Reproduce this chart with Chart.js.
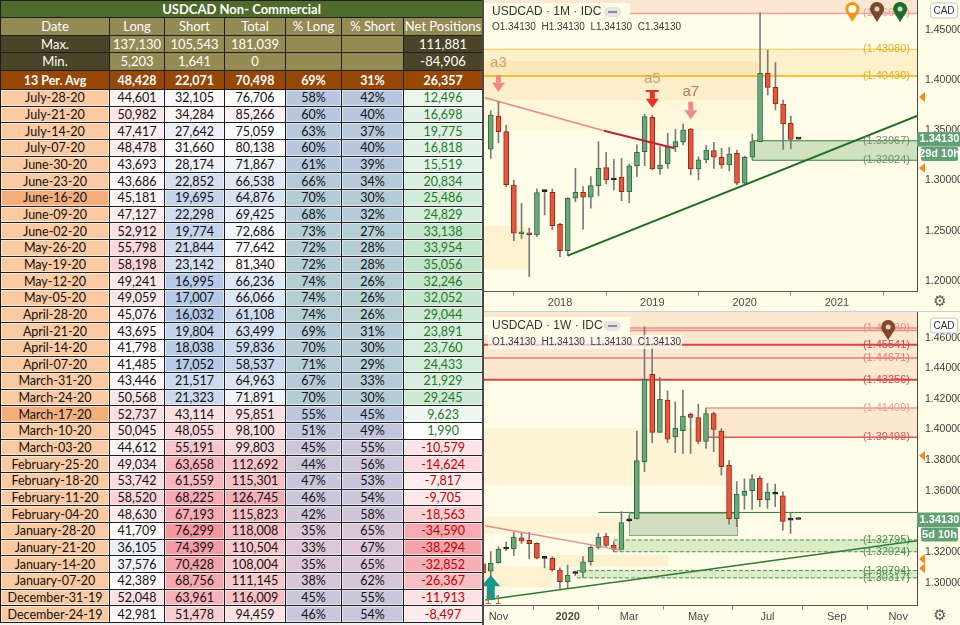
<!DOCTYPE html>
<html>
<head>
<meta charset="utf-8">
<script src="https://cdn.jsdelivr.net/npm/chart.js@4.4.0/dist/chart.umd.min.js"></script>
<style>
html, body { margin: 0; padding: 0; width: 960px; height: 625px; overflow: hidden; background: #fff; }
#cot { position: absolute; left: 0; top: 0; width: 482px; height: 625px; overflow: hidden; background: #f2f2f2; }
#cot table { border-collapse: collapse; table-layout: fixed; width: 482px; font-family: Lato, "Open Sans", sans-serif; font-size: 12.5px; }
#cot td { border: 1px solid #1e1e1e; padding: 0; text-align: center; white-space: nowrap; overflow: hidden; line-height: 13px; color: #111; }
#cot tr.title td { background: #4f6a2a; color: #fff; font-weight: bold; font-size: 13px; height: 16px; }
#cot tr.head td { background: #948a54; color: #fff; height: 17px; font-size: 13px; }
#cot tr.mm td { background: #948a54; color: #fff; height: 16px; font-size: 13px; }
#cot tr.mm.mn td { height: 17px; }
#cot tr.mm td.dk { background: #4a4529; }
#cot tr.avg td { background: #974706; color: #fff; font-weight: bold; height: 18px; }
#cot tr.row td { height: 15.67px; box-shadow: inset 0 0 0 1px rgba(255,255,255,0.55); }
#cot tr.row td.dt { background: #fbcaa2; }
#cot tr.row td.dt.hl { background: #f4ae7c; }
#vsep { position: absolute; left: 482px; top: 0; width: 2px; height: 625px; background: #4a4a4a; }
#hsep { position: absolute; left: 484px; top: 311px; width: 476px; height: 1px; background: #c6ceda; }
#topBox { position: absolute; left: 484px; top: 0; width: 476px; height: 311px; }
#botBox { position: absolute; left: 484px; top: 312px; width: 476px; height: 313px; }
</style>
</head>
<body>
<div id="cot"><table id="cotTable"></table></div>
<div id="vsep"></div>
<div id="topBox"><canvas id="monthChart"></canvas></div>
<div id="hsep"></div>
<div id="botBox"><canvas id="weekChart"></canvas></div>
<script>
// ---------- COT table ----------
const cotDates = ['July-28-20','July-21-20','July-14-20','July-07-20','June-30-20','June-23-20','June-16-20','June-09-20',
    'June-02-20','May-26-20','May-19-20','May-12-20','May-05-20','April-28-20','April-21-20','April-14-20','April-07-20',
    'March-31-20','March-24-20','March-17-20','March-10-20','March-03-20','February-25-20','February-18-20','February-11-20',
    'February-04-20','January-28-20','January-21-20','January-14-20','January-07-20','December-31-19','December-24-19'];
const cotLong = [44601,50982,47417,48478,43693,43686,45181,47127,52912,55798,58198,49241,49059,45076,43695,41798,41485,
    43446,50568,52737,50045,44612,49034,53742,58520,48630,41709,36105,37576,42389,52048,42981];
const cotShort = [32105,34284,27642,31660,28174,22852,19695,22298,19774,21844,23142,16995,17007,16032,19804,18038,17052,
    21517,21323,43114,48055,55191,63658,61559,68225,67193,76299,74399,70428,68756,63961,51478];
const cotTotal = [76706,85266,75059,80138,71867,66538,64876,69425,72686,77642,81340,66236,66066,61108,63499,59836,58537,
    64963,71891,95851,98100,99803,112692,115301,126745,115823,118008,110504,108004,111145,116009,94459];
const cotPctLong = [58,60,63,60,61,66,70,68,73,72,72,74,74,74,69,70,71,67,70,55,51,45,44,47,46,42,35,33,35,38,45,46];
const cotPctShort = [42,40,37,40,39,34,30,32,27,28,28,26,26,26,31,30,29,33,30,45,49,55,56,53,54,58,65,67,65,62,55,54];
const cotNet = [12496,16698,19775,16818,15519,20834,25486,24829,33138,33954,35056,32246,32052,29044,23891,23760,24433,
    21929,29245,9623,1990,-10579,-14624,-7817,-9705,-18563,-34590,-38294,-32852,-26367,-11913,-8497];
const cotMax = [137130, 105543, 181039, 111881];
const cotMin = [5203, 1641, 0, -84906];
const cotAvg = [48428, 22071, 70498, 69, 31, 26357];

const highlightDates = ['June-16-20', 'March-17-20'];

function hexRgb(h) { return [1, 3, 5].map(i => parseInt(h.substr(i, 2), 16)); }
function colorScale(v, lo, mid, hi, cLo, cMid, cHi) {
    let a, b, t;
    if (v <= mid) { a = hexRgb(cLo); b = hexRgb(cMid); t = (v - lo) / (mid - lo); }
    else { a = hexRgb(cMid); b = hexRgb(cHi); t = (v - mid) / (hi - mid); }
    t = Math.max(0, Math.min(1, t));
    return 'rgb(' + a.map((x, i) => Math.round(x + (b[i] - x) * t)).join(',') + ')';
}
const fmt = n => n.toLocaleString('en-US');

function buildTable() {
    let html = '<colgroup><col style="width:109px"><col style="width:55px"><col style="width:60px"><col style="width:61px">' +
        '<col style="width:56px"><col style="width:62px"><col style="width:79px"></colgroup>';
    html += '<tr class="title"><td colspan="7">USDCAD Non- Commercial</td></tr>';
    html += '<tr class="head"><td>Date</td><td>Long</td><td>Short</td><td>Total</td><td>% Long</td><td>% Short</td><td>Net Positions</td></tr>';
    html += `<tr class="mm"><td class="dk">Max.</td><td>${fmt(cotMax[0])}</td><td>${fmt(cotMax[1])}</td><td>${fmt(cotMax[2])}</td><td></td><td></td><td class="dk">${fmt(cotMax[3])}</td></tr>`;
    html += `<tr class="mm mn"><td class="dk">Min.</td><td>${fmt(cotMin[0])}</td><td>${fmt(cotMin[1])}</td><td>${fmt(cotMin[2])}</td><td></td><td></td><td class="dk">${fmt(cotMin[3])}</td></tr>`;
    html += `<tr class="avg"><td>13 Per. Avg</td><td>${fmt(cotAvg[0])}</td><td>${fmt(cotAvg[1])}</td><td>${fmt(cotAvg[2])}</td><td>${cotAvg[3]}%</td><td>${cotAvg[4]}%</td><td>${fmt(cotAvg[5])}</td></tr>`;
    cotDates.forEach((d, i) => {
        const hl = highlightDates.includes(d) ? ' hl' : '';
        const cL = colorScale(cotLong[i], 36000, 41000, 58200, '#eaf0f9', '#fefcfd', '#fad2d7');
        const cS = colorScale(cotShort[i], 16000, 31000, 76300, '#b1c5e6', '#fdfbfc', '#f4979f');
        const cT = colorScale(cotTotal[i], 58500, 77000, 126750, '#c6d5ed', '#ffffff', '#f5adb4');
        const cP = colorScale(cotPctLong[i], 33, 58, 74, '#ddc6d6', '#b8c6e0', '#b4ced4');
        const cN = colorScale(cotNet[i], -38300, 0, 35100, '#f4a2aa', '#ffffff', '#c3e4ca');
        const tN = cotNet[i] < 0 ? '#c00000' : '#1f7a28';
        html += `<tr class="row"><td class="dt${hl}">${d}</td>` +
            `<td style="background:${cL}">${fmt(cotLong[i])}</td>` +
            `<td style="background:${cS}">${fmt(cotShort[i])}</td>` +
            `<td style="background:${cT}">${fmt(cotTotal[i])}</td>` +
            `<td style="background:${cP}">${cotPctLong[i]}%</td>` +
            `<td style="background:${cP}">${cotPctShort[i]}%</td>` +
            `<td style="background:${cN};color:${tN}">${fmt(cotNet[i])}</td></tr>`;
    });
    document.getElementById('cotTable').innerHTML = html;
}
buildTable();

// ---------- monthly candles, Apr 2017 .. Aug 2020 (x = month index, 0 = Apr 2017) ----------
const mOpen  = [1.3312,1.3643,1.3487,1.2956,1.2470,1.2480,1.2458,1.2890,1.2883,1.2565,1.2302,1.2824,1.2883,1.2834,
    1.2949,1.3129,1.3006,1.3033,1.2890,1.3148,1.3288,1.3630,1.3116,1.3165,1.3338,1.3388,1.3514,1.3116,1.3206,1.3299,
    1.3232,1.3155,1.3272,1.2973,1.3232,1.3388,1.4068,1.3929,1.3763,1.3570,1.3413];
const mHigh  = [1.3696,1.3793,1.3554,1.3006,1.2774,1.2528,1.2917,1.2906,1.2917,1.2574,1.2830,1.3122,1.2939,1.3039,
    1.3388,1.3282,1.3215,1.3222,1.3165,1.3355,1.3660,1.3653,1.3338,1.3471,1.3511,1.3564,1.3521,1.3237,1.3348,1.3381,
    1.3321,1.3331,1.3305,1.3245,1.3464,1.4673,1.4301,1.4175,1.3803,1.3643,1.3413];
const mLow   = [1.3222,1.3378,1.2939,1.2402,1.2425,1.2043,1.2441,1.2657,1.2510,1.2243,1.2252,1.2790,1.2515,1.2724,
    1.2847,1.2966,1.2906,1.2800,1.2779,1.3039,1.3149,1.3106,1.3062,1.3122,1.3288,1.3355,1.3056,1.3006,1.3179,1.3122,
    1.3122,1.3099,1.2956,1.2956,1.3205,1.3388,1.3853,1.3703,1.3311,1.3315,1.3413];
const mClose = [1.3653,1.3487,1.2959,1.2475,1.2480,1.2460,1.2880,1.2895,1.2551,1.2302,1.2824,1.2883,1.2834,1.2949,
    1.3122,1.3006,1.3010,1.2890,1.3148,1.3282,1.3637,1.3116,1.3155,1.3338,1.3388,1.3504,1.3116,1.3206,1.3305,1.3232,
    1.3155,1.3265,1.2973,1.3232,1.3388,1.4068,1.3929,1.3763,1.3564,1.3411,1.3413];
const mTickPos = [9, 21, 33, 45];
const mTickLabels = ['2018', '2019', '2020', '2021'];
const mPriceTicks = [1.20, 1.25, 1.30, 1.35, 1.40, 1.45];
const mLinePrices = [1.46650, 1.43080, 1.40430, 1.33967, 1.32024];
const mLineFrom = [-1, -1, -1, 34, 34];
const mZoneTop = [1.4800, 1.43080, 1.4191, 1.3803, 1.33967, 1.2551];
const mZoneBottom = [1.46650, 1.40430, 1.3803, 1.3504, 1.32024, 1.2116];
const mZoneFrom = [-1, -1, -1, -1, 34, -1];
const mZoneTo = [56, 56, 34.7, 34.7, 56, 5.1];
const mRedTrendX = [-0.74, 14.7, 23.9];
const mRedTrendY = [1.3826, 1.3497, 1.3322];
const mGreenTrendX = [10.0, 55.4];
const mGreenTrendY = [1.2252, 1.3643];
const mNoteText = ['a3', 'a5', 'a7'];
const mNoteX = [1, 21, 26];
const mNoteY = [1.4168, 1.4009, 1.3886];
const mArrowTop = [1.4052, 1.3902, 1.3786];
const mArrowTip = [1.3886, 1.3726, 1.3611];
const mPinX = [47.0, 50.2, 53.2];
const mPinY = [1.4580, 1.4580, 1.4580];
const mAlerts = [1.3833, 1.3125];
const lastPrice = 1.34130;

// ---------- weekly candles, Oct 21 2019 .. Aug 3 2020 (x = week index, 0 = Oct 28 2019) ----------
const wOpen  = [1.3124,1.3076,1.3131,1.3220,1.3222,1.3294,1.3277,1.3257,1.3163,1.3159,1.3083,1.3007,1.3060,1.3068,
    1.3137,1.3231,1.3305,1.3244,1.3218,1.3405,1.3416,1.3790,1.4361,1.3982,1.4193,1.3953,1.3993,1.4099,1.4078,1.3923,
    1.4104,1.3990,1.3766,1.3418,1.3570,1.3601,1.3681,1.3540,1.3580,1.3568,1.3409,1.3413];
const wHigh  = [1.3135,1.3203,1.3235,1.3265,1.3331,1.3324,1.3329,1.3261,1.3172,1.3170,1.3098,1.3115,1.3076,1.3170,
    1.3242,1.3322,1.3322,1.3268,1.3464,1.3442,1.3991,1.4672,1.4541,1.4341,1.4254,1.4182,1.4258,1.4110,1.4167,1.4139,
    1.4115,1.4008,1.3797,1.3660,1.3679,1.3708,1.3697,1.3649,1.3644,1.3594,1.3457,1.3413];
const wLow   = [1.3045,1.3039,1.3127,1.3209,1.3179,1.3257,1.3155,1.3155,1.3096,1.3076,1.2963,1.2961,1.3046,1.3035,
    1.3115,1.3220,1.3235,1.3203,1.3214,1.3398,1.3416,1.3725,1.3914,1.3982,1.3914,1.3849,1.3845,1.3845,1.3906,1.3878,
    1.3856,1.3703,1.3383,1.3366,1.3481,1.3479,1.3496,1.3485,1.3496,1.3344,1.3322,1.3413];
const wClose = [1.3065,1.3126,1.3220,1.3225,1.3298,1.3272,1.3255,1.3161,1.3159,1.3083,1.3007,1.3050,1.3065,1.3137,
    1.3231,1.3296,1.3244,1.3218,1.3392,1.3410,1.3797,1.4328,1.3982,1.4197,1.3938,1.4008,1.4088,1.4080,1.3923,1.4104,
    1.4001,1.3758,1.3418,1.3579,1.3597,1.3679,1.3542,1.3592,1.3578,1.3401,1.3413,1.3413];
const wTickPos = [1, 10, 18, 27, 36, 45, 53];
const wTickLabels = ['Nov', '2020', 'Mar', 'May', 'Jul', 'Sep', 'Nov'];
const wPriceTicks = [1.30, 1.32, 1.34, 1.36, 1.38, 1.40, 1.42, 1.44, 1.46];
const wLinePrices = [1.46639, 1.46480, 1.45541, 1.44671, 1.43256, 1.41409, 1.39498, 1.34590, 1.32795, 1.32024, 1.30794, 1.30317];
const wLineFrom = [-1, -1, -1, -1, -1, 27.9, 28.3, 14, 16, 16, 11.2, 11.2];
const wLineLabeled = [1, 0, 1, 1, 1, 1, 1, 0, 1, 1, 1, 1];
const wZoneTop = [1.4770, 1.41409, 1.4008, 1.3431, 1.3181, 1.3105, 1.3453, 1.32795, 1.30794];
const wZoneBottom = [1.43256, 1.39498, 1.3638, 1.3322, 1.3105, 1.2970, 1.3307, 1.32024, 1.30317];
const wZoneFrom = [-1, 27.9, -1, -1, 8, -1, 18, 16, 11.2];
const wZoneTo = [56, 56, 30.5, 16.8, 23.1, 8, 32.1, 56, 56];
const wRedTrendX = [-0.73, 16.9];
const wRedTrendY = [1.3372, 1.3213];
const wGreenTrendX = [-0.73, 55.5];
const wGreenTrendY = [1.2887, 1.3274];
const wArrowX = [0];
const wArrowBase = [1.2887];
const wArrowTip = [1.3049];
const wPinX = [51.7];
const wPinY = [1.4585];
const wAlerts = [1.3829, 1.3155, 1.3094];

// ---------- styles ----------
const BG = '#fffde8';
const FONT = '"Liberation Sans", Arial, sans-serif';
const GREEN = '#6aa87b', GREEN_EDGE = '#2e6b42', RED = '#e6563f', RED_EDGE = '#982816', WICK = '#7b7b7b';
const mLineStyle = [
    { c: '#eea29a', w: 1.5, l: '#e8a098' }, { c: '#f5c64a', w: 1, l: '#e3ac22' }, { c: '#f2b300', w: 1.5, l: '#e3ac22' },
    { c: '#3f7d45', w: 1, l: '#6f8f6f' }, { c: '#3f7d45', w: 1, l: '#6f8f6f' }];
const mZoneFill = ['rgba(246,190,170,0.35)', 'rgba(250,214,140,0.30)', 'rgba(250,210,140,0.32)',
    'rgba(250,220,160,0.18)', 'rgba(120,175,115,0.35)', 'rgba(250,215,150,0.28)'];
const wLineStyle = [
    { c: '#e88c86', w: 1.5 }, { c: '#e88c86', w: 1.5 }, { c: '#d9464a', w: 2 }, { c: '#e57a78', w: 1.5 }, { c: '#d9464a', w: 2 },
    { c: '#eb9a94', w: 1.5 }, { c: '#de5a58', w: 1.5 }, { c: '#3a7a34', w: 1 },
    { c: '#4f8f4f', w: 1, d: [4, 2] }, { c: '#4f8f4f', w: 1, d: [4, 2] }, { c: '#4f8f4f', w: 1, d: [4, 2] }, { c: '#4f8f4f', w: 1, d: [4, 2] }];
const wZoneFill = ['rgba(246,190,170,0.36)', 'rgba(246,190,170,0.36)', 'rgba(250,215,150,0.22)', 'rgba(250,215,150,0.25)',
    'rgba(250,215,150,0.30)', 'rgba(250,215,150,0.30)', 'rgba(140,175,130,0.40)', 'rgba(150,205,140,0.35)', 'rgba(150,205,140,0.35)'];
const wZoneEdge = [null, null, null, null, null, null, '#8ea88a', null, null];

function candleSets(start, o, h, l, c) {
    const wick = [], body = [], fill = [], edge = [];
    for (let i = 0; i < o.length; i++) {
        wick.push({ x: start + i, y: [l[i], h[i]] });
        body.push({ x: start + i, y: [o[i], c[i]] });
        const flat = Math.abs(c[i] - o[i]) < 0.0008;
        fill.push(flat ? '#1a1a1a' : (c[i] >= o[i] ? GREEN : RED));
        edge.push(flat ? '#1a1a1a' : (c[i] >= o[i] ? GREEN_EDGE : RED_EDGE));
    }
    return [
        { type: 'bar', data: wick, backgroundColor: WICK, barThickness: 1, grouped: false, order: 3 },
        { type: 'bar', data: body, backgroundColor: fill, borderColor: edge, borderWidth: 1, borderSkipped: false,
          barThickness: 5, minBarLength: 2, grouped: false, order: 2 }
    ];
}

function trend(xs, ys, from, to, color, width) {
    const pts = [];
    for (let i = from; i <= to; i++) pts.push({ x: xs[i], y: ys[i] });
    return { type: 'line', data: pts, borderColor: color, borderWidth: width, pointRadius: 0, fill: false, order: 1 };
}

function downArrow(ctx, x, yTop, yTip, color) {
    const head = Math.min(9, (yTip - yTop) * 0.55);
    ctx.fillStyle = color;
    ctx.fillRect(x - 2.5, yTop, 5, yTip - yTop - head);
    ctx.beginPath();
    ctx.moveTo(x - 6.5, yTip - head); ctx.lineTo(x + 6.5, yTip - head); ctx.lineTo(x, yTip);
    ctx.closePath(); ctx.fill();
}

function pin(ctx, x, yTip, color, hollow) {
    const r = 7, cy = yTip - 13;
    ctx.fillStyle = color;
    ctx.beginPath();
    ctx.arc(x, cy, r, Math.PI * 0.8, Math.PI * 2.2);
    ctx.lineTo(x, yTip);
    ctx.closePath(); ctx.fill();
    ctx.fillStyle = hollow ? BG : 'rgba(255,255,255,0.75)';
    ctx.beginPath(); ctx.arc(x, cy, hollow ? 4 : 2.5, 0, Math.PI * 2); ctx.fill();
}

function roundBox(ctx, x, y, w, h, r, fill, stroke) {
    ctx.beginPath();
    ctx.roundRect(x, y, w, h, r);
    ctx.fillStyle = fill; ctx.fill();
    if (stroke) { ctx.strokeStyle = stroke; ctx.lineWidth = 1; ctx.stroke(); }
}

function panelPlugin(p) {
    return {
        id: 'panel_' + p.name,
        beforeDraw(chart) {
            const ctx = chart.ctx;
            ctx.save(); ctx.fillStyle = BG; ctx.fillRect(0, 0, chart.width, chart.height); ctx.restore();
        },
        beforeDatasetsDraw(chart) {
            const { ctx, chartArea: a, scales: { x, y } } = chart;
            ctx.save();
            ctx.beginPath(); ctx.rect(a.left, a.top, a.right - a.left, a.bottom - a.top); ctx.clip();
            p.zoneTop.forEach((t, i) => {
                const x0 = x.getPixelForValue(p.zoneFrom[i]), x1 = x.getPixelForValue(p.zoneTo[i]);
                const y0 = y.getPixelForValue(t), y1 = y.getPixelForValue(p.zoneBottom[i]);
                ctx.fillStyle = p.zoneFill[i];
                ctx.fillRect(x0, y0, x1 - x0, y1 - y0);
                if (p.zoneEdge && p.zoneEdge[i]) {
                    ctx.strokeStyle = p.zoneEdge[i]; ctx.lineWidth = 1;
                    ctx.strokeRect(Math.round(x0) + 0.5, Math.round(y0) + 0.5, Math.round(x1 - x0), Math.round(y1 - y0));
                }
            });
            p.linePrices.forEach((v, i) => {
                const s = p.lineStyle[i];
                const yy = y.getPixelForValue(v);
                ctx.strokeStyle = s.c; ctx.lineWidth = s.w; ctx.setLineDash(s.d || []);
                ctx.beginPath(); ctx.moveTo(x.getPixelForValue(p.lineFrom[i]), yy); ctx.lineTo(a.right, yy); ctx.stroke();
            });
            ctx.setLineDash([]);
            ctx.restore();
        },
        afterDatasetsDraw(chart) {
            const { ctx, chartArea: a, scales: { x, y } } = chart;
            ctx.save();
            ctx.beginPath(); ctx.rect(a.left, a.top, a.right - a.left, a.bottom - a.top); ctx.clip();
            // level labels
            ctx.font = '11px ' + FONT; ctx.textAlign = 'right'; ctx.textBaseline = 'middle';
            p.linePrices.forEach((v, i) => {
                if (p.lineLabeled && !p.lineLabeled[i]) return;
                ctx.fillStyle = p.lineStyle[i].l || p.lineStyle[i].c;
                ctx.fillText('(' + v.toFixed(5) + ')', a.right - 7, y.getPixelForValue(v));
            });
            p.extra(ctx, a, x, y);
            ctx.restore();
            // header text
            ctx.save();
            ctx.textBaseline = 'middle';
            ctx.fillStyle = BG;
            ctx.fillRect(0, p.titleY - 9, 146, 18);
            ctx.textAlign = 'left';
            ctx.font = '12px ' + FONT; ctx.fillStyle = '#333';
            ctx.fillText(p.title, 8, p.titleY);
            roundBox(ctx, 120, p.titleY - 5, 17, 10, 5, '#e4e4e4');
            ctx.fillStyle = '#8c8c8c'; ctx.fillRect(124, p.titleY - 1, 9, 2);
            if (p.ohlcBox) { ctx.fillStyle = 'rgba(255,255,250,0.7)'; ctx.fillRect(4, p.ohlcY - 7, 194, 14); }
            ctx.font = '10px ' + FONT; ctx.fillStyle = '#3a3a3a';
            ctx.fillText('O1.34130  H1.34130  L1.34130  C1.34130', 8, p.ohlcY);
            ctx.restore();
        },
        afterDraw(chart) {
            const { ctx, chartArea: a, scales: { y } } = chart;
            ctx.save();
            // alert marks on the price axis
            ctx.fillStyle = '#f58a1f';
            p.alerts.forEach(v => {
                const yy = y.getPixelForValue(v);
                ctx.beginPath(); ctx.moveTo(a.right + 2, yy); ctx.lineTo(a.right + 8, yy - 5); ctx.lineTo(a.right + 8, yy + 5);
                ctx.closePath(); ctx.fill();
            });
            // last price boxes
            const yl = y.getPixelForValue(lastPrice);
            ctx.fillStyle = '#62a176';
            ctx.fillRect(a.right, yl - 7, chart.width - a.right, 14.5);
            roundBox(ctx, a.right + 4, yl + 8, chart.width - a.right - 6, 14, 2, '#62a176');
            ctx.fillStyle = '#fff'; ctx.font = 'bold 11px ' + FONT; ctx.textAlign = 'center'; ctx.textBaseline = 'middle';
            ctx.fillText(lastPrice.toFixed(5), (a.right + chart.width) / 2 + 1, yl);
            ctx.fillText(p.countdown, (a.right + chart.width) / 2 + 1, yl + 15);
            // currency box
            roundBox(ctx, a.right + 13.5, p.cadY, 27, 15, 3, '#fff', '#c4c4c4');
            ctx.fillStyle = '#333'; ctx.font = '10px ' + FONT;
            ctx.fillText('CAD', a.right + 27, p.cadY + 8);
            // settings gear
            ctx.fillStyle = '#555'; ctx.font = '15px "DejaVu Sans"';
            ctx.fillText('\u2699', a.right + 23, a.bottom + 10);
            ctx.restore();
        }
    };
}

function makeChart(id, p) {
    return new Chart(document.getElementById(id), {
        type: 'bar',
        data: { datasets: p.datasets },
        options: {
            responsive: true,
            maintainAspectRatio: false,
            animation: false,
            events: [],
            layout: { padding: 0 },
            plugins: { legend: { display: false }, tooltip: { enabled: false } },
            scales: {
                x: {
                    type: 'linear', min: p.xMin, max: p.xMax, offset: false,
                    afterFit: s => { s.height = p.xAxisH; s.paddingLeft = 0; s.paddingRight = 0; },
                    afterBuildTicks: s => { s.ticks = p.tickPos.map(v => ({ value: v })); },
                    ticks: {
                        autoSkip: false, maxRotation: 0, padding: 1, color: '#4a4a4a',
                        callback: (v, i) => p.tickLabels[i],
                        font: c => ({ family: FONT, size: 11, weight: (c.tick && c.tick.value === p.boldTick) ? 'bold' : 'normal' })
                    },
                    grid: { display: true, drawOnChartArea: false, drawTicks: true, tickLength: 4, color: '#8a8a8a' },
                    border: { display: true, color: '#5a5a5a', width: 1 }
                },
                y: {
                    type: 'linear', position: 'right', min: p.yMin, max: p.yMax,
                    afterFit: s => { s.width = 43; s.paddingTop = 0; s.paddingBottom = 0; },
                    afterBuildTicks: s => { s.ticks = p.priceTicks.map(v => ({ value: v })); },
                    ticks: { padding: 8, color: '#3c3c3c', font: { family: FONT, size: 10.5 }, callback: v => Number(v).toFixed(5) },
                    grid: { display: false, drawTicks: false },
                    border: { display: true, color: '#4a4a4a', width: 1 }
                }
            }
        },
        plugins: [panelPlugin(p)]
    });
}

makeChart('monthChart', {
    name: 'month',
    datasets: [
        ...candleSets(0, mOpen, mHigh, mLow, mClose),
        trend(mRedTrendX, mRedTrendY, 0, 1, 'rgba(226,120,110,0.85)', 1.5),
        trend(mRedTrendX, mRedTrendY, 1, 2, '#b8262a', 2),
        trend(mGreenTrendX, mGreenTrendY, 0, 1, '#1f6d22', 2)
    ],
    xMin: -0.88, xMax: 55.4, yMin: 1.1893, yMax: 1.4799, xAxisH: 19.3,
    tickPos: mTickPos, tickLabels: mTickLabels, boldTick: null, priceTicks: mPriceTicks,
    linePrices: mLinePrices, lineFrom: mLineFrom, lineStyle: mLineStyle,
    zoneTop: mZoneTop, zoneBottom: mZoneBottom, zoneFrom: mZoneFrom, zoneTo: mZoneTo, zoneFill: mZoneFill,
    alerts: mAlerts, countdown: '29d 10h', cadY: 3,
    title: 'USDCAD \u00b7 1M \u00b7 IDC', titleY: 12, ohlcY: 27, ohlcBox: false,
    extra(ctx, a, x, y) {
        const noteColor = ['#c99a6c', '#c99a6c', '#b87a4e'];
        const arrowColor = ['#f08a80', '#e6332a', '#f08a80'];
        mNoteText.forEach((t, i) => {
            const xx = x.getPixelForValue(mNoteX[i]);
            ctx.font = '15px ' + FONT; ctx.textAlign = 'center'; ctx.textBaseline = 'middle';
            ctx.fillStyle = noteColor[i];
            ctx.fillText(t, xx, y.getPixelForValue(mNoteY[i]));
            downArrow(ctx, xx, y.getPixelForValue(mArrowTop[i]), y.getPixelForValue(mArrowTip[i]), arrowColor[i]);
            if (i === 1) ctx.fillRect(xx - 6.5, y.getPixelForValue(mArrowTop[i]), 13, 2);
        });
        const pinColor = ['#f7941d', '#7b4a2c', '#1e6b2c'];
        mPinX.forEach((v, i) => pin(ctx, x.getPixelForValue(v), y.getPixelForValue(mPinY[i]), pinColor[i], i === 0));
    }
});

makeChart('weekChart', {
    name: 'week',
    datasets: [
        ...candleSets(-1, wOpen, wHigh, wLow, wClose),
        trend(wRedTrendX, wRedTrendY, 0, 1, 'rgba(224,130,125,0.9)', 1.5),
        trend(wGreenTrendX, wGreenTrendY, 0, 1, '#2f7a34', 1.5)
    ],
    xMin: -0.88, xMax: 55.45, yMin: 1.2850, yMax: 1.4768, xAxisH: 19.3,
    tickPos: wTickPos, tickLabels: wTickLabels, boldTick: 10, priceTicks: wPriceTicks,
    linePrices: wLinePrices, lineFrom: wLineFrom, lineStyle: wLineStyle, lineLabeled: wLineLabeled,
    zoneTop: wZoneTop, zoneBottom: wZoneBottom, zoneFrom: wZoneFrom, zoneTo: wZoneTo, zoneFill: wZoneFill, zoneEdge: wZoneEdge,
    alerts: wAlerts, countdown: '5d 10h', cadY: 6,
    title: 'USDCAD \u00b7 1W \u00b7 IDC', titleY: 14, ohlcY: 30, ohlcBox: true,
    extra(ctx, a, x, y) {
        wArrowX.forEach((v, i) => {
            const xx = x.getPixelForValue(v), yb = y.getPixelForValue(wArrowBase[i]), yt = y.getPixelForValue(wArrowTip[i]);
            ctx.fillStyle = '#16978a';
            ctx.fillRect(xx - 4, yt + 10, 8, yb - yt - 10);
            ctx.beginPath(); ctx.moveTo(xx - 9.5, yt + 11); ctx.lineTo(xx + 9.5, yt + 11); ctx.lineTo(xx, yt); ctx.closePath(); ctx.fill();
            ctx.fillStyle = '#c2643c'; ctx.font = '12px ' + FONT; ctx.textAlign = 'left'; ctx.textBaseline = 'bottom';
            ctx.fillText('1 1', xx - 6, a.bottom + 1);
        });
        wPinX.forEach((v, i) => pin(ctx, x.getPixelForValue(v), y.getPixelForValue(wPinY[i]), '#85472a', false));
    }
});
</script>
</body>
</html>
